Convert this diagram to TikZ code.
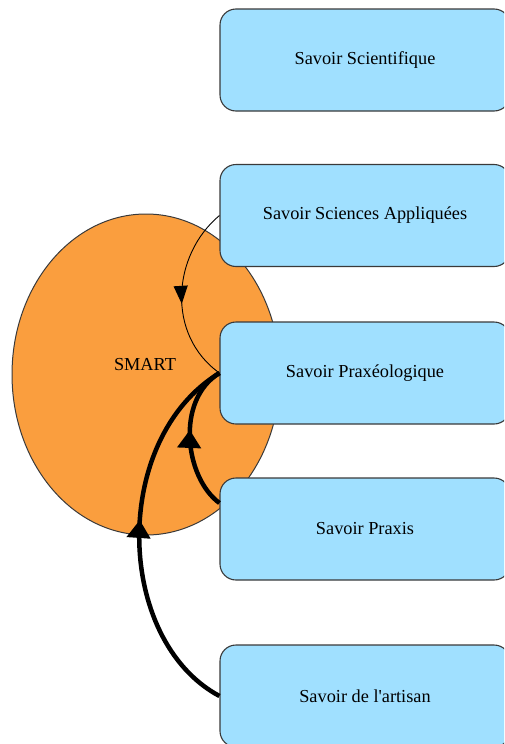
\documentclass[tikz,border=0pt]{standalone}
\usepackage{fontspec}
\setmainfont{Liberation Serif}
\usetikzlibrary{arrows.meta,decorations.markings,shapes.geometric}

\definecolor{boxblue}{HTML}{A0E0FF}
\definecolor{smartorange}{HTML}{FA9E3E}
\definecolor{edgegray}{HTML}{3A3A3A}

\tikzset{
  savoir/.style={draw=edgegray, line width=1.1pt, fill=boxblue,
    rounded corners=16pt, minimum width=290pt, minimum height=102pt,
    inner sep=0pt, font=\fontsize{18.3}{22}\selectfont},
  smartzone/.style={ellipse, draw=edgegray, line width=1pt, fill=smartorange,
    minimum width=268pt, minimum height=321pt, inner sep=0pt},
  midarrow/.style 2 args={postaction={decorate},
    decoration={markings, mark=at position #1 with {\arrow{#2}}}},
  thinflow/.style={draw=black, line width=0.9pt,
    midarrow={0.55}{Triangle[length=18pt,width=14pt]}},
  thickflow/.style={draw=black, line width=4.5pt,
    midarrow={#1}{Triangle[length=18pt,width=23pt]}},
  labeltext/.style={font=\fontsize{18.3}{22}\selectfont, inner sep=0pt}
}

\begin{document}
\begin{tikzpicture}[x=1pt, y=-1pt]
  \useasboundingbox (0,0) rectangle (504,744);
  \clip (0,0) rectangle (504,744);

  % SMART zone
  \node[smartzone] (smart) at (146,374.5) {};
  \node[labeltext] (smartlabel) at (145,365) {SMART};

  % knowledge boxes
  \node[savoir] (b1) at (365,60)    {Savoir Scientifique};
  \node[savoir] (b2) at (365,215.5) {Savoir Sciences Appliquées};
  \node[savoir] (b3) at (365,373)   {Savoir Praxéologique};
  \node[savoir] (b4) at (365,529)   {Savoir Praxis};
  \node[savoir] (b5) at (365,696)   {Savoir de l\textquotesingle artisan};

  % flows
  \draw[thinflow] (b2.west) .. controls (172,255) and (166,335) .. (b3.west);
  \draw[thickflow=0.55] ([yshift=26pt]b4.west) .. controls (185,478) and (175,400) .. (b3.west);
  \draw[thickflow=0.54] (b5.west) .. controls (115,640) and (110,440) .. (b3.west);
\end{tikzpicture}
\end{document}
